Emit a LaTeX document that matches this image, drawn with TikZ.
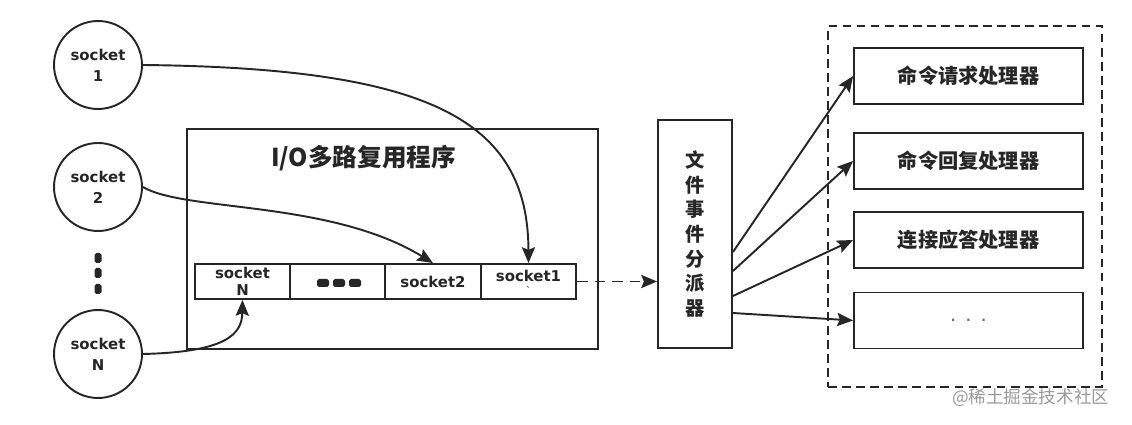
\documentclass[tikz,border=0pt]{standalone}
\usepackage{fontspec}
\usepackage{tikz}
\usetikzlibrary{arrows.meta}
\newfontfamily\cjk{Noto Sans CJK SC}
\newfontfamily\sockfont{DejaVu Sans}
\colorlet{ink}{black!85}

\begin{document}
\begin{tikzpicture}[x=0.02cm,y=-0.02cm,>={Stealth[length=9pt,width=7.5pt,inset=1.5pt]},
        line width=1.1pt,
        sock node/.style={circle,draw=ink,minimum size=1.76cm,inner sep=0pt,align=center,text=ink,font=\sockfont\bfseries\fontsize{8.5}{12}\selectfont},
        cell node/.style={rectangle,draw=ink,minimum width=1.9cm,minimum height=0.7cm,inner sep=0pt,align=center,text=ink,font=\sockfont\bfseries\fontsize{8.5}{11}\selectfont},
        box node/.style={rectangle,draw=ink,inner sep=0pt,text=ink},
        handler node/.style={box node,minimum width=4.58cm,minimum height=1.12cm,font=\cjk\bfseries\fontsize{11.5}{14}\selectfont}]
        \useasboundingbox (0,0) rectangle (1132,425);

        \node[sock node] (s1) at (98,65) {socket\\1};
        \node[sock node] (s2) at (98,187) {socket\\2};
        \node[sock node] (sN) at (98,354) {socket\\N};
        \foreach \y in {258,273,289}
          \fill[ink,rounded corners=1pt] (94.5,\y-5) rectangle (101.5,\y+5);

        \node[box node,minimum width=8.22cm,minimum height=4.4cm] (iomux) at (392.5,239) {};
        \node[text=ink,font=\cjk\bfseries\fontsize{14}{16}\selectfont] (title) at (363.5,158) {I/O多路复用程序};

        \node[cell node] (cellN) at (242.5,281.5) {socket\\[-1pt]N};
        \node[cell node] (cellD) at (337.5,281.5) {};
        \node[cell node] (cell2) at (433,281.5) {socket2};
        \node[cell node] (cell1) at (528.5,281.5) {socket1\\[-4pt]{\tiny`}};
        \foreach \x in {323,339,355}
          \fill[ink,rounded corners=1pt] (\x-6,279) rectangle (\x+6,287);

        \node[box node,minimum width=1.48cm,minimum height=4.56cm,align=center,
          font=\cjk\bfseries\fontsize{11}{14}\selectfont] (disp) at (695,234)
          {文\\件\\事\\件\\分\\派\\器};

        \node[box node,dashed,dash pattern=on 5pt off 3pt,minimum width=5.48cm,minimum height=7.22cm] (group) at (965,206.5) {};
        \node[handler node] (h1) at (968.5,76) {命令请求处理器};
        \node[handler node] (h2) at (968.5,161) {命令回复处理器};
        \node[handler node] (h3) at (968.5,240) {连接应答处理器};
        \node[handler node,font=\sockfont\bfseries\fontsize{7}{8}\selectfont,text=black!60] (h4) at (968.5,320.5) {.\hspace{6pt}.\hspace{6pt}.};

        \draw[->,ink] (s1.east) .. controls (430,68) and (528,120) .. (cell1.north);
        \draw[->,ink] (s2.east) .. controls (185,212) and (330,200) .. (cell2.north);
        \draw[->,ink] (sN.east) .. controls (225,352) and (242,335) .. (cellN.south);

        \draw[->,ink,dash pattern=on 6pt off 4pt] (cell1.east) -- (cell1.east -| disp.west);

        \draw[->,ink] (disp.east |- 0,252) -- (h1.west);
        \draw[->,ink] (disp.east |- 0,271) -- (h2.west);
        \draw[->,ink] (disp.east |- 0,296) -- (h3.west);
        \draw[->,ink] (disp.east |- 0,313) -- (h4.west);

        \node[anchor=east,text=black!40,font=\cjk\fontsize{10}{12}\selectfont] (mark) at (1116,398) {@稀土掘金技术社区};
      \end{tikzpicture}
\end{document}
